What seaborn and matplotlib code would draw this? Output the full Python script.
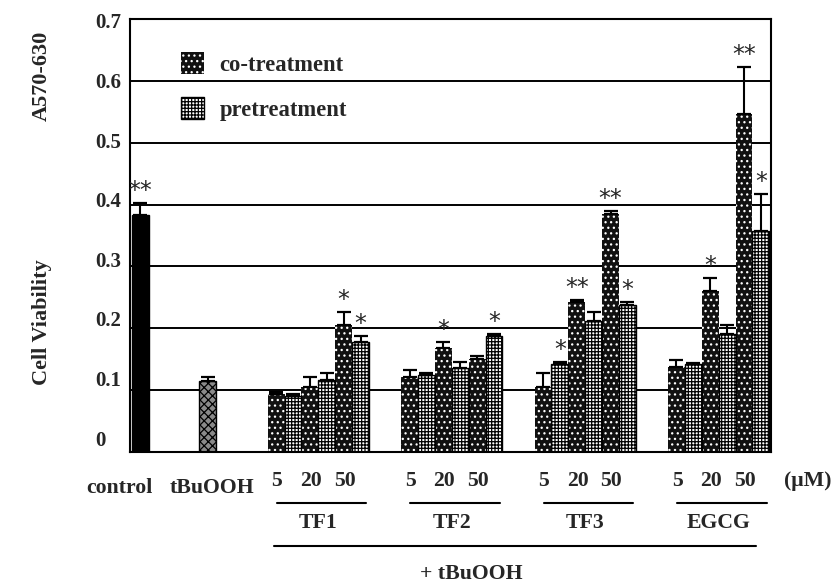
import numpy as np
import pandas as pd
import matplotlib
matplotlib.use("Agg")
import matplotlib.pyplot as plt
import seaborn as sns
from matplotlib.patches import Patch
from matplotlib.transforms import ScaledTranslation

# ---------------- data ----------------
groups = ["TF1", "TF2", "TF3", "EGCG"]
doses = ["5", "20", "50"]

control_value = 0.383
control_err = 0.020
tbu_value = 0.115
tbu_err = 0.007

co_values = [[0.094, 0.105, 0.205],
             [0.122, 0.168, 0.150],
             [0.105, 0.243, 0.385],
             [0.138, 0.260, 0.546]]
co_err = [[0.003, 0.016, 0.022],
          [0.011, 0.010, 0.005],
          [0.022, 0.003, 0.005],
          [0.011, 0.022, 0.076]]
pre_values = [[0.090, 0.116, 0.178],
              [0.125, 0.136, 0.188],
              [0.142, 0.211, 0.238],
              [0.142, 0.190, 0.357]]
pre_err = [[0.004, 0.011, 0.010],
           [0.003, 0.009, 0.002],
           [0.004, 0.015, 0.005],
           [0.002, 0.015, 0.060]]
control_star = "**"
co_stars = [["", "", "*"], ["", "*", ""], ["", "**", "**"], ["", "*", "**"]]
pre_stars = [["", "", "*"], ["", "", "*"], ["*", "", "*"], ["", "", "*"]]

yticks = [0, 0.1, 0.2, 0.3, 0.4, 0.5, 0.6, 0.7]
ytick_labels = ["0", "0.1", "0.2", "0.3", "0.4", "0.5", "0.6", "0.7"]

# ---------------- layout ----------------
W, H, DPI = 839, 587, 100
CONTROL_X, TBU_X = 0.6, 4.6
GROUP0, GROUP_STEP = 8.15, 7.9
XMAX = 37.95

rows = []
rows.append(dict(x=CONTROL_X, value=control_value, err=control_err, kind="control", star=control_star))
rows.append(dict(x=TBU_X, value=tbu_value, err=tbu_err, kind="tBuOOH", star=""))
for g in range(len(groups)):
    start = GROUP0 + GROUP_STEP * g
    for d in range(len(doses)):
        rows.append(dict(x=round(start + 0.5 + 2 * d, 3), value=co_values[g][d], err=co_err[g][d],
                         kind="co-treatment", star=co_stars[g][d]))
        rows.append(dict(x=round(start + 1.5 + 2 * d, 3), value=pre_values[g][d], err=pre_err[g][d],
                         kind="pretreatment", star=pre_stars[g][d]))
df = pd.DataFrame(rows)

sns.set_theme(style="white")
plt.rcParams["font.family"] = ["Liberation Serif", "DejaVu Serif"]
plt.rcParams["font.weight"] = "bold"
plt.rcParams["hatch.linewidth"] = 0.9

fig = plt.figure(figsize=(W / DPI, H / DPI), dpi=DPI)
ax = fig.add_axes([130 / W, 1 - 452 / H, 641 / W, 433 / H])

hue_order = ["control", "tBuOOH", "co-treatment", "pretreatment"]
palette = {"control": "black", "tBuOOH": "#707070", "co-treatment": "#111111", "pretreatment": "white"}
sns.barplot(data=df, x="x", y="value", hue="kind", hue_order=hue_order, palette=palette,
            native_scale=True, dodge=False, width=1.0, errorbar=None, saturation=1,
            legend=False, ax=ax, zorder=2)

styles = {
    "control": dict(face="black", edge="black", hatch=None, lw=1.0),
    "tBuOOH": dict(face="#8a8a8a", edge="black", hatch="xxxx", lw=1.0),
    "co-treatment": dict(face="#111111", edge="white", hatch="...", lw=0.0),
    "pretreatment": dict(face="white", edge="black", hatch="+++++", lw=1.0),
}
for cont, kind in zip(ax.containers, hue_order):
    st = styles[kind]
    for p in cont.patches:
        p.set_facecolor(st["face"])
        p.set_edgecolor(st["edge"])
        p.set_linewidth(st["lw"])
        if st["hatch"]:
            p.set_hatch(st["hatch"])

# error bars (upper only)
ax.errorbar(df["x"], df["value"], yerr=[np.zeros(len(df)), df["err"]], fmt="none",
            ecolor="black", elinewidth=1.5, capsize=5, capthick=1.6, zorder=4)

# significance stars
for _, r in df.iterrows():
    if r["star"]:
        ax.annotate(r["star"], xy=(r["x"], r["value"] + r["err"]), xytext=(0, 0),
                    textcoords="offset points", ha="center", va="bottom",
                    fontsize=17, family="DejaVu Sans", fontweight="normal", zorder=5)

# axes styling
ax.set_xlim(0, XMAX)
ax.set_ylim(0, 0.7)
ax.set_xlabel("")
ax.set_ylabel("")
ax.set_xticks([])
ax.set_yticks(yticks)
ax.set_yticklabels(ytick_labels, fontsize=15, fontweight="bold")
ax.tick_params(axis="y", length=0, pad=25)
for v, lab in zip(yticks, ax.get_yticklabels()):
    lab.set_horizontalalignment("left")
    dy = (-1.7 + 2.2 * (7 - round(v * 10))) / DPI
    lab.set_transform(lab.get_transform() + ScaledTranslation(0, dy, fig.dpi_scale_trans))
ax.yaxis.grid(True, color="black", linewidth=1.4)
ax.xaxis.grid(False)
ax.set_axisbelow(True)
for s in ax.spines.values():
    s.set_visible(True)
    s.set_color("black")
    s.set_linewidth(1.5)

# legend
handles = [Patch(facecolor=styles["co-treatment"]["face"], edgecolor="white", hatch="...", linewidth=0),
           Patch(facecolor="white", edgecolor="black", hatch="+++++", linewidth=1.0)]
ax.legend(handles, ["co-treatment", "pretreatment"], loc="upper left",
          bbox_to_anchor=(51 / 641, 1 - 33 / 433), frameon=False,
          handlelength=1.0, handleheight=1.1, handletextpad=0.7, labelspacing=0.95,
          borderpad=0, borderaxespad=0, prop=dict(weight="bold", size=16.3))

# labels under the axis
tr = ax.get_xaxis_transform()
def ay(ypx):
    return (452 - ypx) / 433

txt = dict(fontsize=15.7, fontweight="bold", ha="center", va="center")
ax.text(-0.6, ay(488), "control", transform=tr, clip_on=False, **txt)
ax.text(TBU_X + 0.25, ay(488), "tBuOOH", transform=tr, clip_on=False, **txt)
for g, name in enumerate(groups):
    start = GROUP0 + GROUP_STEP * g
    for d, dose in enumerate(doses):
        ax.text(start + 1.0 + 2 * d - 0.45, ay(481), dose, transform=tr, clip_on=False, **txt)
    ax.plot([start + 0.55, start + 5.85], [ay(503), ay(503)], transform=tr, clip_on=False,
            color="black", linewidth=1.5)
    ax.text(start + 3.0, ay(523), name, transform=tr, clip_on=False, **txt)
ax.text(40.1, ay(481), "(μM)", transform=tr, clip_on=False, **txt)
ax.plot([GROUP0 + 0.4, GROUP0 + 3 * GROUP_STEP + 5.2], [ay(546), ay(546)], transform=tr,
        clip_on=False, color="black", linewidth=1.5)
ax.text(20.2, ay(574), "+ tBuOOH", transform=tr, clip_on=False, **txt)

fig.text(42 / W, 1 - 76 / H, "A570-630", rotation=90, ha="center", va="center",
         fontsize=16, fontweight="bold")
fig.text(42 / W, 1 - 322 / H, "Cell Viability", rotation=90, ha="center", va="center",
         fontsize=16, fontweight="bold")

fig.savefig("out.png", dpi=DPI)
